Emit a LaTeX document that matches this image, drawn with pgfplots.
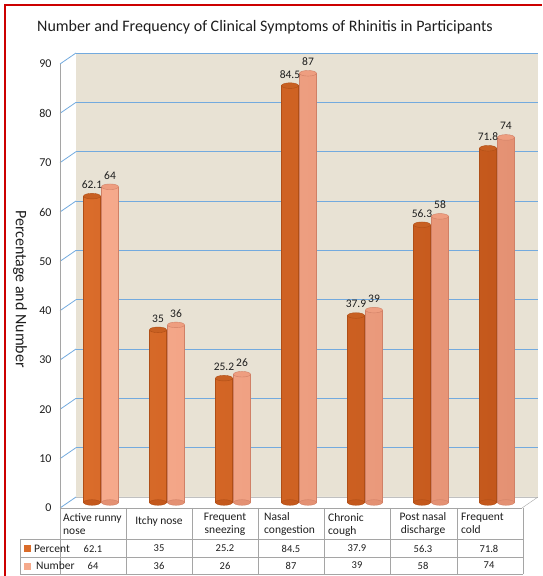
\documentclass[border=0pt]{standalone}
\usepackage{fontspec}
\setmainfont{Carlito}
\usepackage{pgfplots}
\usepackage{pgfplotstable}
\pgfplotsset{compat=1.18}
\pgfplotsset{/pgf/number format/assume math mode=true}
\definecolor{wallc}{RGB}{232,226,212}
\definecolor{gridc}{RGB}{115,170,222}
\definecolor{oEdge}{RGB}{175,78,22}
\definecolor{oDark}{RGB}{196,88,28}
\definecolor{oMain}{RGB}{218,108,42}
\definecolor{oHi}{RGB}{240,142,74}
\definecolor{oTop}{RGB}{200,96,34}
\definecolor{sEdge}{RGB}{208,128,102}
\definecolor{sDark}{RGB}{228,145,115}
\definecolor{sMain}{RGB}{246,170,140}
\definecolor{sHi}{RGB}{252,200,175}
\definecolor{sTop}{RGB}{238,158,128}
\definecolor{txt}{RGB}{30,30,30}
\definecolor{tline}{RGB}{165,165,165}
\pgfdeclareplotmark{cyltop}{\pgfpathellipse{\pgfpointorigin}{\pgfpoint{8.5pt}{0pt}}{\pgfpoint{0pt}{2.8pt}}\pgfusepathqfillstroke}
\pgfplotstableread{
x pct num base
0 62.1 64 0
1 35 36 0
2 25.2 26 0
3 84.5 87 0
4 37.9 39 0
5 56.3 58 0
6 71.8 74 0
}\data
\begin{document}
\begin{tikzpicture}[x=1pt,y=1pt]
\useasboundingbox (0,0) rectangle (542,576);
% red frame
\draw[red!80!black, line width=1.5pt] (5,0) -- (5,571) -- (542,571);
% title
\node[text=txt, font=\fontsize{16}{19}\selectfont] at (265,549) {Number and Frequency of Clinical Symptoms of Rhinitis in Participants};
% y label
\node[rotate=-90, text=txt, font=\fontsize{16}{19}\selectfont] at (20,287) {Percentage and Number};
% back wall
\fill[wallc] (76,79) rectangle (538,523);
\foreach \i in {1,...,9} {
  \draw[gridc, line width=0.8pt] (76,79+\i*49.333) -- (538,79+\i*49.333);
  \draw[gridc, line width=0.8pt] (60,68+\i*49.333) -- (76,79+\i*49.333);
}
% floor
\fill[white] (60,68) -- (522,68) -- (538,79) -- (76,79) -- cycle;
\draw[tline!70] (76,79) -- (538,79);
\draw[tline] (522,68) -- (538,79);
\draw[gridc, line width=0.8pt] (60,68) -- (76,79);
% front axis
\begin{axis}[at={(60pt,68pt)}, anchor=south west, scale only axis,
  width=462pt, height=444pt, xmin=-0.5, xmax=6.5, ymin=0, ymax=90,
  axis x line=none, axis y line*=left,
  y axis line style={draw=tline, line width=0.6pt, -},
  ytick={0,10,...,90}, major tick length=0pt, xtick=\empty,
  yticklabel style={font=\fontsize{12}{14}\selectfont, text=txt, xshift=-5pt}]
\addplot[draw=none, forget plot] coordinates {(0,0)};
\end{axis}
% bars
\begin{axis}[at={(68pt,73.5pt)}, anchor=south west, scale only axis,
  width=462pt, height=444pt, xmin=-0.5, xmax=6.5, ymin=0, ymax=90,
  axis lines=none, clip=false]
\addplot[only marks, mark=cyltop, mark options={fill=oDark, draw=oEdge, line width=0.4pt}, xshift=-9pt] table[x=x,y=base]{\data};
\addplot[only marks, mark=cyltop, mark options={fill=sDark, draw=sEdge, line width=0.4pt}, xshift=9pt] table[x=x,y=base]{\data};
\addplot[ybar, bar width=17pt, bar shift=-9pt, draw=oEdge, line width=0.4pt,
  left color=oMain, middle color=oHi, right color=oDark,
  nodes near coords, nodes near coords style={font=\fontsize{11.5}{13}\selectfont, text=txt, xshift=-9pt, yshift=4pt}]
  table[x=x,y=pct]{\data};
\addplot[ybar, bar width=17pt, bar shift=9pt, draw=sEdge, line width=0.4pt,
  left color=sMain, middle color=sHi, right color=sDark,
  nodes near coords, nodes near coords style={font=\fontsize{11.5}{13}\selectfont, text=txt, xshift=9pt, yshift=4pt}]
  table[x=x,y=num]{\data};
\addplot[only marks, mark=cyltop, mark options={fill=oTop, draw=oEdge, line width=0.4pt}, xshift=-9pt] table[x=x,y=pct]{\data};
\addplot[only marks, mark=cyltop, mark options={fill=sTop, draw=sEdge, line width=0.4pt}, xshift=9pt] table[x=x,y=num]{\data};
\end{axis}
% data table
\draw[tline] (60,68) -- (522,68);
\foreach \yy in {37,19,2} \draw[tline] (20,\yy) -- (523,\yy);
\draw[tline] (20,37) -- (20,2);
\foreach \xx in {60,126,192,258,324,390,457,523} \draw[tline] (\xx,68) -- (\xx,2);
\begin{scope}[every node/.style={font=\fontsize{11.5}{13}\selectfont, text=txt, inner sep=0pt}]
\node[anchor=north west, align=left] at (63,63) {Active runny\\nose};
\node[anchor=north] at (159,60) {Itchy nose};
\node[anchor=north, align=center] at (225,63) {Frequent\\sneezing};
\node[anchor=north west, align=left] at (264,64) {Nasal\\congestion};
\node[anchor=north west, align=left] at (328,63) {Chronic\\cough};
\node[anchor=north, align=center] at (423,64) {Post nasal\\discharge};
\node[anchor=north west, align=left] at (461,63) {Frequent\\cold};
\fill[oMain] (24,24) rectangle (31,31);
\node[anchor=west] at (34,27.5) {Percent};
\fill[sMain] (24,6) rectangle (31,13);
\node[anchor=west] at (36,10.5) {Number};
\end{scope}
\begin{scope}[every node/.style={font=\fontsize{10.5}{12}\selectfont, text=txt, inner sep=0pt}]
\foreach \v [count=\i from 0] in {62.1,35,25.2,84.5,37.9,56.3,71.8} \node at (93+\i*66,27.5) {\v};
\foreach \v [count=\i from 0] in {64,36,26,87,39,58,74} \node at (93+\i*66,10.5) {\v};
\end{scope}
\end{tikzpicture}
\end{document}
